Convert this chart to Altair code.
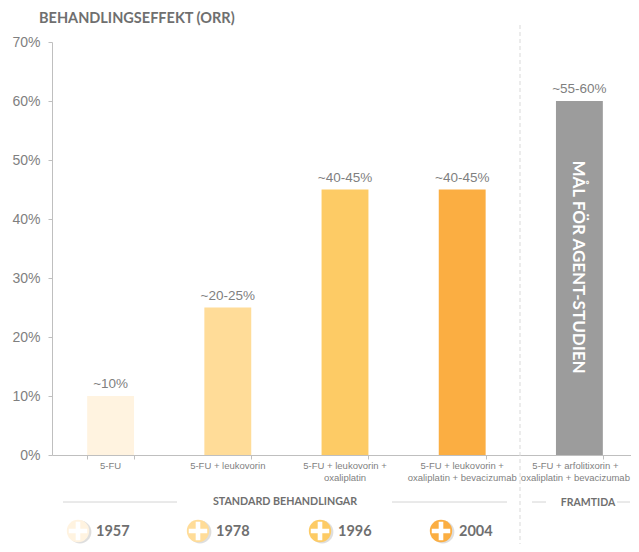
import altair as alt
import pandas as pd

categories = ["5-FU", "5-FU + leukovorin", "5-FU + leukovorin +|oxaliplatin",
              "5-FU + leukovorin +|oxaliplatin + bevacizumab",
              "5-FU + arfolitixorin +|oxaliplatin + bevacizumab"]
values = [10, 25, 45, 45, 60]
value_labels = ["~10%", "~20-25%", "~40-45%", "~40-45%", "~55-60%"]
colors = ["#fff3e0", "#ffdc98", "#fdcb65", "#fbae42", "#9c9c9c"]
years = ["1957", "1978", "1996", "2004"]
year_x = [26, 146, 268, 389]
year_colors = ["#fff3e0", "#ffdc98", "#fdcb65", "#fbae42"]

GRAY = "#7f7f7f"
DARK = "#6f6f6f"
AXIS = "#bfbfbf"
SANS = "Liberation Sans"
BOLD = "Lato"
W, H = 579, 413

df = pd.DataFrame({"cat": categories, "v": values, "lab": value_labels, "col": colors})
xscale = alt.Scale(paddingInner=0.6, paddingOuter=0.3, range=[0, 586])
x = alt.X("cat:N", sort=categories, title=None, scale=xscale,
          axis=alt.Axis(labelAngle=0, labels=False, domainColor=AXIS, tickColor=AXIS, tickSize=4,
                        tickBand="extent"))
y = alt.Y("v:Q", title=None,
          scale=alt.Scale(domain=[0, 70]),
          axis=alt.Axis(values=[0, 10, 20, 30, 40, 50, 60, 70], labelExpr="datum.value + '%'",
                        labelFont=SANS, labelFontSize=14, labelColor=GRAY, labelPadding=8,
                        domainColor=AXIS, tickColor=AXIS, tickSize=4, grid=False))

bars = alt.Chart(df).mark_bar().encode(x=x, y=y, color=alt.Color("col:N", scale=None))
labels = alt.Chart(df).mark_text(font=SANS, fontSize=13.5, color=GRAY, baseline="bottom", dy=-5).encode(
    x=alt.X("cat:N", sort=categories), y="v:Q", text="lab:N")

def note(text, px, py, size=10, color=DARK, bold=True, align="center", angle=0, font=BOLD):
    return alt.Chart(pd.DataFrame({"t": [text]})).mark_text(
        font=font, fontSize=size, color=color, fontWeight="bold" if bold else "normal",
        align=align, baseline="middle", angle=angle).encode(
        x=alt.value(px), y=alt.value(py), text="t:N")

def rule(x1, y1, x2, y2, **kw):
    return alt.Chart(pd.DataFrame({"a": [0]})).mark_rule(**kw).encode(
        x=alt.value(x1), x2=alt.value(x2), y=alt.value(y1), y2=alt.value(y2))

layers = [bars, labels]
for c in categories:
    layers.append(alt.Chart(df[df.cat == c]).mark_text(
        font=SANS, fontSize=9.5, color=GRAY, baseline="top", lineBreak="|", lineHeight=11.5,
        dx=-4 if c == categories[-1] else 0).encode(
        x=alt.X("cat:N", sort=categories), y=alt.value(H + 6), text="cat:N"))
layers.append(rule(468, -17, 468, 502, color="#d9d9d9", strokeDash=[4, 3], strokeWidth=1))
for a, b in [(11, 125), (340, 455), (480, 494), (565, 578)]:
    layers.append(rule(a, 460, b, 460, color="#d4d4d4", strokeWidth=1))
layers.append(note("BEHANDLINGSEFFEKT (ORR)", -13, -23, size=14.5, align="left"))
layers.append(note("STANDARD BEHANDLINGAR", 233, 460, size=10.7))
layers.append(note("FRAMTIDA", 536, 461, size=10.5))
layers.append(note("MÅL FÖR AGENT-STUDIEN", 526, 225, size=17, color="white", angle=90))

ROW = 489
for yr, px, c in zip(years, year_x, year_colors):
    d = pd.DataFrame({"yr": [yr]})
    layers.append(alt.Chart(d).mark_point(filled=True, shape="circle", size=520, color="#000000", opacity=0.13)
                  .encode(x=alt.value(px + 2), y=alt.value(ROW + 1)))
    layers.append(alt.Chart(d).mark_point(filled=True, shape="circle", size=500, color=c, opacity=1)
                  .encode(x=alt.value(px), y=alt.value(ROW)))
    layers.append(alt.Chart(d).mark_point(filled=True, shape="M-1,-0.25H-0.25V-1H0.25V-0.25H1V0.25H0.25V1H-0.25V0.25H-1Z",
                                          size=340, color="white", opacity=1)
                  .encode(x=alt.value(px), y=alt.value(ROW)))
    layers.append(note(yr, px + 18, ROW + 1, size=14.5, align="left"))

chart = alt.layer(*layers).properties(
    width=W, height=H, padding={"left": 44, "top": 34, "right": 0, "bottom": 89},
    autosize=alt.AutoSizeParams(type="none")
).configure_view(stroke=None)

chart.save("out.html", embed_options={"renderer": "svg", "actions": False})
